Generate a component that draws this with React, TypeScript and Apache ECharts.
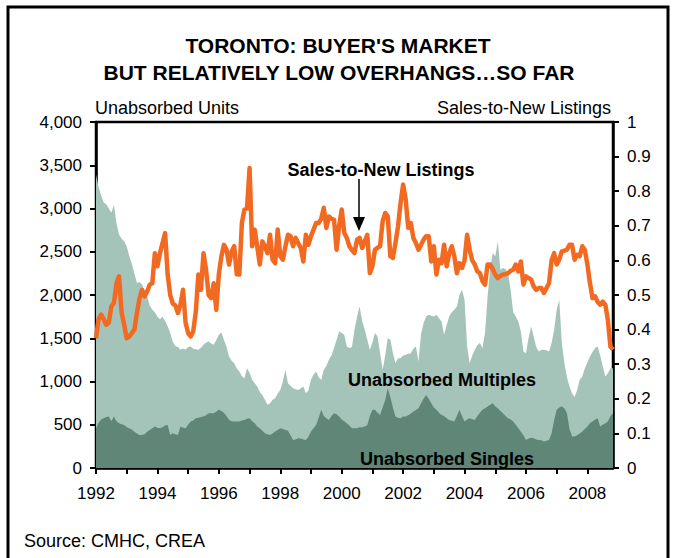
import React, { useEffect, useRef } from "react";
import * as echarts from "echarts";

// Monthly categories Jan 1992 .. Nov 2008
const startYear = 1992;
const monthCount = 203;
const months: string[] = [];
for (let i = 0; i < monthCount; i++) {
  const y = startYear + Math.floor(i / 12);
  const m = (i % 12) + 1;
  months.push(`${y}-${m < 10 ? "0" + m : m}`);
}

// Sales-to-new listings ratio (right axis)
const salesToNewListings = [
  0.375,0.43,0.443,0.43,0.414,0.42,0.467,0.477,0.534,0.554,
  0.45,0.414,0.375,0.38,0.39,0.40,0.448,0.49,0.515,0.496,
  0.51,0.53,0.534,0.621,0.583,0.621,0.65,0.679,0.559,0.50,
  0.475,0.47,0.448,0.472,0.515,0.42,0.39,0.38,0.395,0.452,
  0.559,0.515,0.621,0.573,0.50,0.491,0.534,0.457,0.56,0.612,
  0.645,0.631,0.588,0.626,0.641,0.56,0.559,0.708,0.747,0.75,
  0.867,0.641,0.689,0.64,0.588,0.655,0.64,0.621,0.674,0.602,
  0.592,0.689,0.612,0.602,0.64,0.674,0.67,0.641,0.665,0.65,
  0.636,0.597,0.674,0.645,0.67,0.689,0.708,0.708,0.72,0.752,
  0.694,0.727,0.72,0.718,0.631,0.70,0.747,0.68,0.665,0.641,
  0.63,0.621,0.66,0.665,0.636,0.655,0.674,0.563,0.583,0.631,
  0.636,0.641,0.713,0.737,0.727,0.612,0.607,0.65,0.698,0.766,
  0.819,0.776,0.694,0.708,0.665,0.65,0.631,0.645,0.66,0.67,
  0.67,0.597,0.641,0.559,0.602,0.592,0.645,0.583,0.62,0.641,
  0.612,0.563,0.592,0.578,0.60,0.674,0.631,0.60,0.588,0.568,
  0.563,0.54,0.53,0.588,0.588,0.575,0.559,0.549,0.555,0.559,
  0.56,0.563,0.57,0.573,0.588,0.568,0.597,0.53,0.554,0.549,
  0.545,0.525,0.515,0.52,0.52,0.506,0.52,0.534,0.60,0.621,
  0.588,0.602,0.626,0.628,0.631,0.645,0.645,0.602,0.616,0.612,
  0.641,0.63,0.588,0.534,0.491,0.496,0.48,0.472,0.481,0.472,
  0.428,0.351,0.342,
];

// Total unabsorbed units (singles + multiples), top of the light area
const unabsorbedTotal = [
  3393,3250,3150,3070,3050,3000,2950,3040,2830,2700,
  2650,2620,2560,2450,2360,2250,2140,2150,2120,2050,
  1980,1880,1830,1800,1750,1720,1750,1700,1640,1560,
  1460,1410,1400,1366,1380,1370,1400,1405,1380,1374,
  1366,1390,1424,1450,1463,1440,1424,1480,1540,1567,
  1480,1400,1289,1240,1212,1150,1116,1060,1038,1154,
  1100,1019,980,942,880,845,790,730,749,790,
  807,860,903,1000,1135,980,950,923,910,903,
  920,942,865,900,1019,1080,1116,1050,1019,1135,
  1180,1251,1300,1386,1480,1579,1560,1540,1405,1386,
  1400,1598,1750,1868,1700,1598,1482,1366,1450,1560,
  1521,1328,1135,1300,1502,1482,1330,1212,1270,1270,
  1300,1309,1320,1328,1380,1405,1231,1550,1675,1752,
  1772,1760,1752,1772,1730,1695,1540,1650,1752,1800,
  1830,1868,2000,2061,1945,1405,1212,1300,1366,1420,
  1444,1386,1560,1984,2300,2486,2447,2621,2293,2312,
  2300,2254,2061,1800,1752,1695,1579,1347,1328,1500,
  1637,1521,1400,1347,1366,1366,1360,1347,1444,1598,
  1830,1945,1444,1212,1050,942,865,820,903,1019,
  1057,1154,1220,1289,1340,1386,1405,1300,1174,1057,
  1096,1154,1154,
];

// Unabsorbed singles (dark area)
const unabsorbedSingles = [
  459,520,560,575,590,594,540,594,540,517,
  505,498,470,459,445,420,400,382,382,390,
  420,440,460,479,465,459,470,490,498,382,
  401,390,382,479,465,459,500,537,550,575,
  580,590,594,610,633,633,633,650,672,660,
  640,600,556,540,537,537,537,550,556,570,
  575,540,517,480,459,430,401,390,382,400,
  421,440,459,450,440,430,380,324,330,344,
  340,330,324,360,421,460,498,580,672,600,
  575,556,600,633,620,594,560,540,517,490,
  459,459,459,470,470,480,498,600,672,672,
  640,614,700,787,923,820,700,594,580,575,
  594,594,610,630,652,670,691,750,800,845,
  800,749,700,672,640,614,600,575,556,545,
  537,600,672,600,537,560,575,565,556,600,
  640,672,690,710,730,749,710,691,660,633,
  600,575,560,537,500,460,420,380,324,340,
  350,344,330,324,320,305,315,324,400,550,
  672,700,710,690,633,450,363,363,380,400,
  421,450,479,520,537,560,575,479,500,517,
  537,600,633,
];

const FONT = "'Liberation Sans', Arial, Helvetica, sans-serif";
const LIGHT = "#a4c3b9";
const DARK = "#5f8676";
const ORANGE = "#f26a22";

export default function App() {
  const ref = useRef<HTMLDivElement>(null);

  useEffect(() => {
    if (!ref.current) return;
    const chart = echarts.init(ref.current, null, { renderer: "svg" });
    const axisLabelStyle = { color: "#000", fontFamily: FONT, fontSize: 17 };
    chart.setOption({
      animation: false,
      backgroundColor: "#fff",
      grid: {
        left: 96,
        right: 61,
        top: 122,
        bottom: 90,
        show: true,
        borderColor: "#000",
        borderWidth: 2.5,
        backgroundColor: "transparent",
      },
      xAxis: {
        type: "category",
        data: months,
        boundaryGap: false,
        axisLine: { lineStyle: { color: "#000", width: 2.5 } },
        axisTick: {
          show: true,
          length: 6,
          lineStyle: { color: "#000", width: 2 },
          interval: (i: number) => i % 12 === 0,
        },
        axisLabel: {
          ...axisLabelStyle,
          margin: 17,
          interval: (i: number) => i % 24 === 0,
          formatter: (v: string) => v.slice(0, 4),
          showMinLabel: true,
        },
        splitLine: { show: false },
      },
      yAxis: [
        {
          type: "value",
          min: 0,
          max: 4000,
          interval: 500,
          position: "left",
          axisLine: { show: true, lineStyle: { color: "#000", width: 2.5 } },
          axisTick: { show: true, length: 6, lineStyle: { color: "#000", width: 2 } },
          axisLabel: {
            ...axisLabelStyle,
            margin: 14,
            formatter: (v: number) => v.toLocaleString("en-US"),
          },
          splitLine: { show: false },
        },
        {
          type: "value",
          min: 0,
          max: 1,
          interval: 0.1,
          position: "right",
          axisLine: { show: true, lineStyle: { color: "#000", width: 2.5 } },
          axisTick: { show: true, length: 6, lineStyle: { color: "#000", width: 2 } },
          axisLabel: {
            ...axisLabelStyle,
            margin: 14,
            formatter: (v: number) => String(Math.round(v * 10) / 10),
          },
          splitLine: { show: false },
        },
      ],
      series: [
        {
          name: "Unabsorbed Multiples",
          type: "line",
          data: unabsorbedTotal,
          showSymbol: false,
          symbol: "none",
          lineStyle: { width: 0 },
          areaStyle: { color: LIGHT, opacity: 1 },
          z: 1,
        },
        {
          name: "Unabsorbed Singles",
          type: "line",
          data: unabsorbedSingles,
          showSymbol: false,
          symbol: "none",
          lineStyle: { width: 0 },
          areaStyle: { color: DARK, opacity: 1 },
          z: 2,
        },
        {
          name: "Sales-to-New Listings",
          type: "line",
          yAxisIndex: 1,
          data: salesToNewListings,
          showSymbol: false,
          symbol: "none",
          lineStyle: { width: 4.5, color: ORANGE, join: "round" },
          z: 3,
        },
      ],
      graphic: [
        {
          type: "rect",
          shape: { x: 8, y: 7, width: 660, height: 580 },
          style: { fill: "none", stroke: "#000", lineWidth: 3 },
          z: 100,
          silent: true,
        },
        {
          type: "text",
          x: 338,
          y: 45,
          style: {
            text: "TORONTO: BUYER'S MARKET",
            font: `bold 21px ${FONT}`,
            fill: "#000",
            textAlign: "center",
            textVerticalAlign: "middle",
          },
          z: 100,
        },
        {
          type: "text",
          x: 339,
          y: 72,
          style: {
            text: "BUT RELATIVELY LOW OVERHANGS…SO FAR",
            font: `bold 21px ${FONT}`,
            fill: "#000",
            textAlign: "center",
            textVerticalAlign: "middle",
          },
          z: 100,
        },
        {
          type: "text",
          x: 95,
          y: 108,
          style: {
            text: "Unabsorbed Units",
            font: `18px ${FONT}`,
            fill: "#000",
            textAlign: "left",
            textVerticalAlign: "middle",
          },
          z: 100,
        },
        {
          type: "text",
          x: 611,
          y: 108,
          style: {
            text: "Sales-to-New Listings",
            font: `18px ${FONT}`,
            fill: "#000",
            textAlign: "right",
            textVerticalAlign: "middle",
          },
          z: 100,
        },
        {
          type: "text",
          x: 381,
          y: 170,
          style: {
            text: "Sales-to-New Listings",
            font: `bold 18px ${FONT}`,
            fill: "#000",
            textAlign: "center",
            textVerticalAlign: "middle",
          },
          z: 100,
        },
        {
          type: "line",
          shape: { x1: 359, y1: 179, x2: 359, y2: 220 },
          style: { stroke: "#000", lineWidth: 1.5 },
          z: 100,
        },
        {
          type: "polygon",
          shape: { points: [[353, 217], [365, 217], [359, 231]] },
          style: { fill: "#000" },
          z: 100,
        },
        {
          type: "text",
          x: 442,
          y: 380,
          style: {
            text: "Unabsorbed Multiples",
            font: `bold 18px ${FONT}`,
            fill: "#000",
            textAlign: "center",
            textVerticalAlign: "middle",
          },
          z: 100,
        },
        {
          type: "text",
          x: 447,
          y: 459,
          style: {
            text: "Unabsorbed Singles",
            font: `bold 18px ${FONT}`,
            fill: "#000",
            textAlign: "center",
            textVerticalAlign: "middle",
          },
          z: 100,
        },
        {
          type: "text",
          x: 24,
          y: 541,
          style: {
            text: "Source: CMHC, CREA",
            font: `18px ${FONT}`,
            fill: "#000",
            textAlign: "left",
            textVerticalAlign: "middle",
          },
          z: 100,
        },
      ],
    });
    return () => chart.dispose();
  }, []);

  return (
    <div
      ref={ref}
      style={{ position: "fixed", left: 0, top: 0, width: 674, height: 558 }}
    />
  );
}
